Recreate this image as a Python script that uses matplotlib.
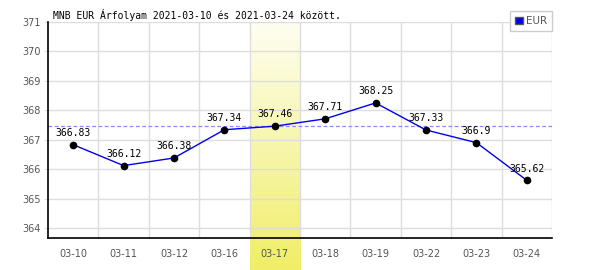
import numpy as np
import matplotlib
matplotlib.use('Agg')
from matplotlib import pyplot as plt
from matplotlib.patches import Patch

# chart data
dates = ['03-10', '03-11', '03-12', '03-16', '03-17',
         '03-18', '03-19', '03-22', '03-23', '03-24']
rates = [366.83, 366.12, 366.38, 367.34, 367.46,
         367.71, 368.25, 367.33, 366.9, 365.62]
highlight = 4
ref_rate = 367.46
title = 'MNB EUR Árfolyam 2021-03-10 és 2021-03-24 között.'

fig = plt.figure(figsize=(6, 2.7), dpi=100)
ax = fig.add_axes([0.08, 0.1185, 0.84, 0.8])

x = np.arange(len(dates))

# highlighted column, gradient that runs below the axis
grad = np.linspace(0, 1, 256).reshape(-1, 1)
cmap = matplotlib.colors.LinearSegmentedColormap.from_list(
    'hl', ['#fefef2', '#f0ee66'])
ax.imshow(grad, cmap=cmap, aspect='auto',
          extent=(highlight - 0.5, highlight + 0.5, -0.15, 1.0),
          transform=ax.get_xaxis_transform(), clip_on=False, zorder=0)

# grid
for b in np.arange(0.5, len(dates) - 0.5, 1):
    ax.axvline(b, color='#dddddd', lw=1, zorder=1)
for v in range(364, 372):
    ax.axhline(v, color='#dddddd', lw=1, zorder=1)
ax.axvline(len(dates) - 0.5, color='#dddddd', lw=1, zorder=1)

ax.axhline(ref_rate, color='#8888ff', lw=0.9, ls=(0, (3, 2)), zorder=2)

ax.plot(x, rates, color='#0000ee', lw=1, zorder=3)
ax.plot(x, rates, 'o', color='black', ms=4.5, zorder=4)
for xi, r in zip(x, rates):
    ax.annotate(f'{r:g}', (xi, r), xytext=(0, 8.5), textcoords='offset points',
                ha='center', va='center', fontsize=7,
                family='DejaVu Sans Mono', zorder=5)

ax.set_xlim(-0.5, len(dates) - 0.5)
ax.set_ylim(363.66, 371)
ax.set_xticks(x)
ax.set_xticklabels(dates)
ax.set_yticks(range(364, 372))
ax.tick_params(axis='x', length=0, pad=8, labelsize=7, labelcolor='#555555')
ax.tick_params(axis='y', length=3, color='#dddddd', pad=2,
               labelsize=7, labelcolor='#555555')
for s in ['top', 'right']:
    ax.spines[s].set_visible(False)
ax.spines['left'].set_linewidth(1.2)
ax.spines['bottom'].set_linewidth(1.2)

fig.text(0.088, 0.944, title, fontsize=7, family='DejaVu Sans Mono',
         va='center', ha='left')

leg = fig.legend(handles=[Patch(facecolor='#0000ee', edgecolor='#555555',
                                label='EUR')],
                 loc='upper right', bbox_to_anchor=(0.92, 0.959),
                 fontsize=7.5, frameon=True, fancybox=False,
                 edgecolor='#cccccc', framealpha=1,
                 handlelength=0.7, handleheight=0.7, handletextpad=0.3,
                 borderpad=0.5, borderaxespad=0)
for t in leg.get_texts():
    t.set_color('#555555')

fig.savefig('out.png', dpi=100)
